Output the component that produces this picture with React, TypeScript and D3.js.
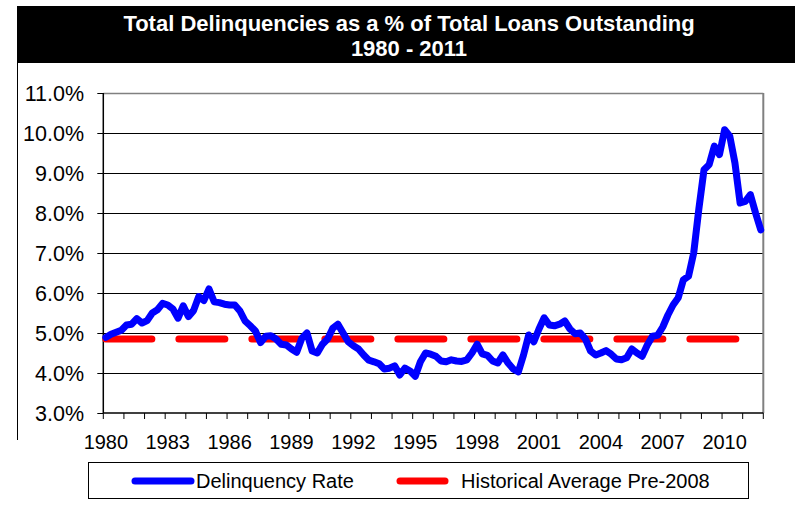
import { useEffect } from 'react'
import * as d3 from 'd3'

// quarterly delinquency rate (%), 1980 Q1 .. 2011 Q4
const delinquencyRate = [
  4.89, 4.97, 5.02, 5.07, 5.2, 5.22, 5.36, 5.25,
  5.31, 5.5, 5.58, 5.74, 5.7, 5.6, 5.37, 5.68,
  5.41, 5.56, 5.91, 5.81, 6.1, 5.78, 5.76, 5.72,
  5.7, 5.7, 5.55, 5.3, 5.18, 5.05, 4.76, 4.92,
  4.93, 4.85, 4.72, 4.7, 4.6, 4.52, 4.87, 5.0,
  4.55, 4.5, 4.72, 4.85, 5.12, 5.22, 5.0, 4.78,
  4.68, 4.6, 4.45, 4.32, 4.28, 4.23, 4.1, 4.12,
  4.18, 3.95, 4.12, 4.05, 3.92, 4.28, 4.5, 4.47,
  4.42, 4.3, 4.28, 4.33, 4.3, 4.29, 4.33, 4.5,
  4.72, 4.48, 4.44, 4.3, 4.25, 4.45, 4.25, 4.1,
  4.03, 4.45, 4.95, 4.78, 5.1, 5.38, 5.2, 5.18,
  5.22, 5.3, 5.1, 4.98, 5.0, 4.85, 4.55, 4.45,
  4.5, 4.56, 4.47, 4.35, 4.33, 4.38, 4.6, 4.5,
  4.42, 4.7, 4.92, 4.94, 5.15, 5.45, 5.7, 5.88,
  6.33, 6.42, 7.0, 8.1, 9.08, 9.21, 9.67, 9.46,
  10.08, 9.92, 9.25, 8.25, 8.29, 8.46, 8.0, 7.58,
]
const historicalAverage = 4.85
const startYear = 1980
const endYear = 2012
const yearLabels = [1980, 1983, 1986, 1989, 1992, 1995, 1998, 2001, 2004, 2007, 2010]
const yTicks = [3, 4, 5, 6, 7, 8, 9, 10, 11]
const titleLines = ['Total Delinquencies as a % of Total Loans Outstanding', '1980 - 2011']
const seriesNames = ['Delinquency Rate', 'Historical Average Pre-2008']

const FONT = '"Liberation Sans", Arial, sans-serif'

export default function App() {
  useEffect(() => {
    document.body.style.margin = '0'
  }, [])

  const width = 795
  const height = 515
  const plot = { left: 103.3, right: 763.3, top: 93, bottom: 413 }

  const nQ = (endYear - startYear) * 4
  const x = d3.scaleLinear().domain([0, nQ]).range([plot.left, plot.right])
  const y = d3.scaleLinear().domain([3, 11]).range([plot.bottom, plot.top])

  const line = d3.line<number>()
    .x((_, i) => x(i + 0.5))
    .y(d => y(d))

  const years = d3.range(startYear, endYear + 1)

  return (
    <svg width={width} height={height} style={{ position: 'absolute', left: 0, top: 0, background: '#fff' }}
      fontFamily={FONT}>
      {/* title band */}
      <rect x={17} y={6} width={778} height={57} fill="#000" />
      {titleLines.map((t, i) => (
        <text key={t} x={409} y={31 + i * 25} textAnchor="middle" fill="#fff"
          fontSize={22} fontWeight="bold">{t}</text>
      ))}
      <line x1={17.5} x2={17.5} y1={63} y2={440} stroke="#000" strokeWidth={1} />

      {/* gridlines */}
      {yTicks.filter(t => t > 3 && t < 11).map(t => (
        <line key={t} x1={plot.left} x2={plot.right} y1={Math.round(y(t)) + 0.5} y2={Math.round(y(t)) + 0.5}
          stroke="#000" strokeWidth={1} />
      ))}
      {/* plot border (top/right gray) */}
      <line x1={plot.left} x2={plot.right} y1={plot.top + 0.5} y2={plot.top + 0.5} stroke="#808080" strokeWidth={1.5} />
      <line x1={plot.right} x2={plot.right} y1={plot.top} y2={plot.bottom} stroke="#808080" strokeWidth={2} />

      {/* y axis */}
      <line x1={plot.left} x2={plot.left} y1={plot.top} y2={plot.bottom} stroke="#000" strokeWidth={1.5} />
      {yTicks.map(t => (
        <g key={t}>
          <line x1={plot.left - 6} x2={plot.left} y1={Math.round(y(t)) + 0.5} y2={Math.round(y(t)) + 0.5}
            stroke="#000" strokeWidth={1} />
          <text x={84} y={y(t) + 7.5} textAnchor="end" fontSize={21.5} fill="#000">{t.toFixed(1)}%</text>
        </g>
      ))}

      {/* x axis */}
      <line x1={plot.left} x2={plot.right} y1={plot.bottom} y2={plot.bottom} stroke="#000" strokeWidth={1.5} />
      {years.map(yr => (
        <line key={yr} x1={x((yr - startYear) * 4)} x2={x((yr - startYear) * 4)} y1={plot.bottom} y2={plot.bottom + 6}
          stroke="#000" strokeWidth={1} />
      ))}
      {yearLabels.map(yr => (
        <text key={yr} x={x((yr - startYear) * 4 + 0.5)} y={449} textAnchor="middle" fontSize={20} fill="#000">{yr}</text>
      ))}

      {/* series */}
      <path d={`M${x(0.5)},${y(historicalAverage)}H${x(nQ - 0.5)}`} stroke="#FF0000" strokeWidth={7}
        strokeLinecap="round" strokeDasharray="46 27" fill="none" />
      <path d={line(delinquencyRate) || ''} stroke="#0000FF" strokeWidth={7} strokeLinejoin="round"
        strokeLinecap="round" fill="none" />

      {/* legend */}
      <rect x={88.5} y={462.5} width={660} height={36} fill="#fff" stroke="#000" strokeWidth={1} />
      <line x1={135} x2={191} y1={481} y2={481} stroke="#0000FF" strokeWidth={7} strokeLinecap="round" />
      <text x={196} y={488} fontSize={20} fill="#000">{seriesNames[0]}</text>
      <line x1={400} x2={445} y1={481} y2={481} stroke="#FF0000" strokeWidth={7} strokeLinecap="round" />
      <text x={461} y={488} fontSize={20} fill="#000">{seriesNames[1]}</text>
    </svg>
  )
}
